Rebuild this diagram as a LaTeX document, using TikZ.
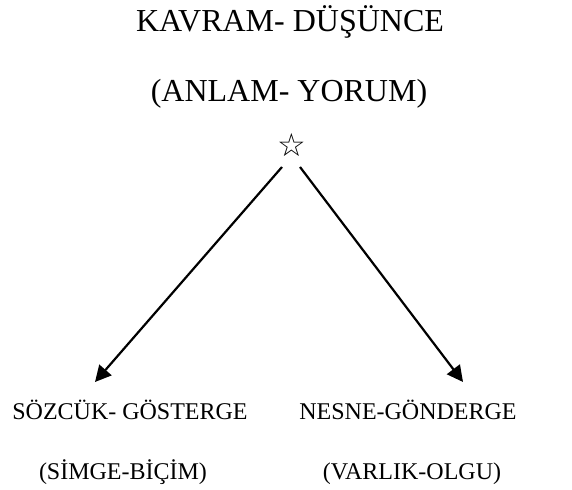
\documentclass[tikz,border=0pt]{standalone}
\usepackage{fontspec}
\setmainfont{Liberation Serif}
\newfontfamily\starfont{DejaVu Sans Bold}
\usetikzlibrary{arrows.meta}

\begin{document}
\begin{tikzpicture}[x=0.5pt, y=-0.5pt,
  title/.style={anchor=base, inner sep=0pt, font=\fontsize{16pt}{18pt}\selectfont},
  label/.style={anchor=base, inner sep=0pt, font=\fontsize{12pt}{14pt}\selectfont},
  link/.style={line width=1.1pt, -{Triangle[length=8pt, width=8pt]}}]
\useasboundingbox (0,0) rectangle (572,490);

% Concept (top)
\node[title] (kavram) at (290,32) {KAVRAM- DÜŞÜNCE};
\node[title] (anlam) at (289,102) {(ANLAM- YORUM)};
\node[inner sep=0pt, font=\starfont\fontsize{16pt}{18pt}\selectfont] (star) at (292,145) {☆};

% Symbol (left)
\node[label] (sozcuk) at (130,420) {SÖZCÜK- GÖSTERGE};
\node[label] (simge) at (123,480) {(SİMGE-BİÇİM)};

% Referent (right)
\node[label] (nesne) at (408,420) {NESNE-GÖNDERGE};
\node[label] (varlik) at (412,480) {(VARLIK-OLGU)};

% Arrows
\coordinate (startL) at (282,167);
\coordinate (startR) at (300,167);
\coordinate (tipL) at (95,382);
\coordinate (tipR) at (463,382);
\draw[link] (startL) -- (tipL);
\draw[link] (startR) -- (tipR);
\end{tikzpicture}
\end{document}
